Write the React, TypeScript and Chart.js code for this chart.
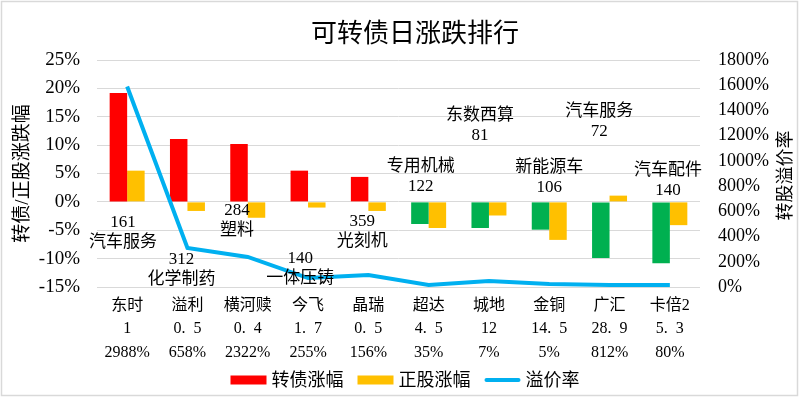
import React, { useEffect, useRef } from "react";
import { Chart, registerables } from "chart.js";

Chart.register(...registerables);

const FONT = '"Liberation Serif", "Noto Sans CJK SC", serif';

// ---- data ----
const categories = ["东时", "溢利", "横河赎", "今飞", "晶瑞", "超达", "城地", "金铜", "广汇", "卡倍2"];
const bondPrices = [1, 0.5, 0.4, 1.7, 0.5, 4.5, 12, 14.5, 28.9, 5.3];
const premiumText = ["2988%", "658%", "2322%", "255%", "156%", "35%", "7%", "5%", "812%", "80%"];
const bondChange = [19.2, 11.1, 10.2, 5.5, 4.4, -3.9, -4.6, -4.9, -9.9, -10.8];
const stockChange = [5.5, -1.6, -2.8, -1.0, -1.6, -4.6, -2.4, -6.7, 1.1, -4.1];
const premiumRate = [1590, 310, 238, 71, 95, 16, 48, 24, 16, 16];
const industries = ["汽车服务", "化学制药", "塑料", "一体压铸", "光刻机", "专用机械", "东数西算", "新能源车", "汽车服务", "汽车配件"];
const industryCounts = [161, 312, 284, 140, 359, 122, 81, 106, 72, 140];
const leftAxis = { min: -15, max: 25, step: 5 };
const rightAxis = { min: 0, max: 1800, step: 200 };

// annotation anchors (left-axis units for first line, category shift, which line first)
const annoY = [-3.7, -10.2, -1.6, -9.9, -3.5, 6.2, 15.3, 6.0, 15.9, 5.6];
const annoShift = [-0.07, -0.1, -0.18, -0.13, -0.1, -0.13, -0.15, 0, -0.17, -0.03];
const annoCountFirst = [true, true, true, true, true, false, false, false, false, false];

const RED = "#FF0000";
const GREEN = "#00B050";
const ORANGE = "#FFC000";
const BLUE = "#00B0F0";

const fmtPrice = (v: number) => String(v).replace(".", ".\u2002");

const decorPlugin = {
  id: "decor",
  afterDatasetsDraw(chart: any) {
    const ctx = chart.ctx;
    const x = chart.scales.x;
    const y = chart.scales.y;
    const catW = x.getPixelForValue(1) - x.getPixelForValue(0);
    ctx.save();
    ctx.fillStyle = "#000";
    ctx.font = `17px ${FONT}`;
    ctx.textAlign = "center";
    ctx.textBaseline = "middle";
    categories.forEach((_, i) => {
      const px = x.getPixelForValue(i) + annoShift[i] * catW;
      const py = y.getPixelForValue(annoY[i]);
      const first = annoCountFirst[i] ? String(industryCounts[i]) : industries[i];
      const second = annoCountFirst[i] ? industries[i] : String(industryCounts[i]);
      ctx.fillText(first, px, py);
      ctx.fillText(second, px, py + 20);
    });
    ctx.restore();
  },
  afterDraw(chart: any) {
    const ctx = chart.ctx;
    const area = chart.chartArea;
    const midY = (area.top + area.bottom) / 2;
    ctx.save();
    // border
    ctx.strokeStyle = "#D9D9D9";
    ctx.lineWidth = 1.5;
    ctx.strokeRect(1.5, 1.5, 796, 394);
    // title
    ctx.fillStyle = "#000";
    ctx.font = `26px ${FONT}`;
    ctx.textAlign = "center";
    ctx.textBaseline = "middle";
    ctx.fillText("可转债日涨跌排行", 415, 35);
    // axis titles
    ctx.font = `19px ${FONT}`;
    ctx.save();
    ctx.translate(23, midY);
    ctx.rotate(-Math.PI / 2);
    ctx.fillText("转债/正股涨跌幅", 0, 0);
    ctx.restore();
    ctx.font = `18px ${FONT}`;
    ctx.save();
    ctx.translate(786, midY + 2);
    ctx.rotate(-Math.PI / 2);
    ctx.fillText("转股溢价率", 0, 0);
    ctx.restore();
    // legend
    ctx.font = `18px ${FONT}`;
    ctx.textAlign = "left";
    const ly = 380;
    const items = [
      { t: "转债涨幅", c: RED, line: false },
      { t: "正股涨幅", c: ORANGE, line: false },
      { t: "溢价率", c: BLUE, line: true },
    ];
    const sw = 36, gap = 5, itemGap = 14;
    const widths = items.map((it) => sw + gap + ctx.measureText(it.t).width);
    const total = widths.reduce((a, b) => a + b, 0) + itemGap * (items.length - 1);
    let lx = 405 - total / 2;
    items.forEach((it, i) => {
      if (it.line) {
        ctx.strokeStyle = it.c;
        ctx.lineWidth = 4;
        ctx.lineCap = "round";
        ctx.beginPath();
        ctx.moveTo(lx + 2, ly);
        ctx.lineTo(lx + sw - 2, ly);
        ctx.stroke();
      } else {
        ctx.fillStyle = it.c;
        ctx.fillRect(lx, ly - 4.5, sw, 9);
      }
      ctx.fillStyle = "#000";
      ctx.fillText(it.t, lx + sw + gap, ly + 1);
      lx += widths[i] + itemGap;
    });
    ctx.restore();
  },
};

export default function App() {
  const ref = useRef<HTMLCanvasElement | null>(null);
  useEffect(() => {
    if (!ref.current) return;
    Chart.defaults.font.family = FONT;
    const labels = categories.map((c, i) => [c, fmtPrice(bondPrices[i]), premiumText[i]]);
    const chart = new Chart(ref.current, {
      type: "bar",
      data: {
        labels,
        datasets: [
          {
            type: "line",
            label: "溢价率",
            data: premiumRate,
            yAxisID: "y1",
            borderColor: BLUE,
            backgroundColor: BLUE,
            borderWidth: 4,
            pointRadius: 0,
            tension: 0,
            order: 0,
          } as any,
          {
            type: "bar",
            label: "转债涨幅",
            data: bondChange,
            yAxisID: "y",
            backgroundColor: bondChange.map((v) => (v >= 0 ? RED : GREEN)),
            categoryPercentage: 0.58,
            barPercentage: 1,
            order: 1,
          },
          {
            type: "bar",
            label: "正股涨幅",
            data: stockChange,
            yAxisID: "y",
            backgroundColor: ORANGE,
            categoryPercentage: 0.58,
            barPercentage: 1,
            order: 1,
          },
        ],
      },
      options: {
        responsive: false,
        animation: false,
        layout: { padding: { top: 60, left: 0, right: 0, bottom: 0 } },
        plugins: {
          legend: { display: false },
          title: { display: false },
          tooltip: { enabled: false },
        },
        scales: {
          x: {
            grid: { display: false, drawTicks: false },
            border: { display: false },
            ticks: {
              color: "#000",
              font: { size: 16, lineHeight: 1.47 },
              padding: 7,
              maxRotation: 0,
              autoSkip: false,
            },
            afterFit: (s: any) => {
              s.height = 111;
            },
          },
          y: {
            position: "left",
            min: leftAxis.min,
            max: leftAxis.max,
            grid: { color: "#D9D9D9", drawTicks: false, lineWidth: 1 },
            border: { display: false },
            ticks: {
              stepSize: leftAxis.step,
              autoSkip: false,
              color: "#000",
              font: { size: 19 },
              padding: 17,
              callback: (v: any) => `${v}%`,
            },
            afterFit: (s: any) => {
              s.width = 97;
            },
          },
          y1: {
            position: "right",
            min: rightAxis.min,
            max: rightAxis.max,
            grid: { drawOnChartArea: false, drawTicks: false },
            border: { display: false },
            ticks: {
              stepSize: rightAxis.step,
              autoSkip: false,
              color: "#000",
              font: { size: 18 },
              padding: 18,
              callback: (v: any) => `${v}%`,
            },
            afterFit: (s: any) => {
              s.width = 100;
            },
          },
        },
      },
      plugins: [decorPlugin],
    });
    return () => chart.destroy();
  }, []);
  return (
    <div style={{ position: "absolute", left: 0, top: 0, width: 800, height: 398, background: "#fff" }}>
      <canvas ref={ref} width={800} height={398} style={{ display: "block" }} />
    </div>
  );
}
